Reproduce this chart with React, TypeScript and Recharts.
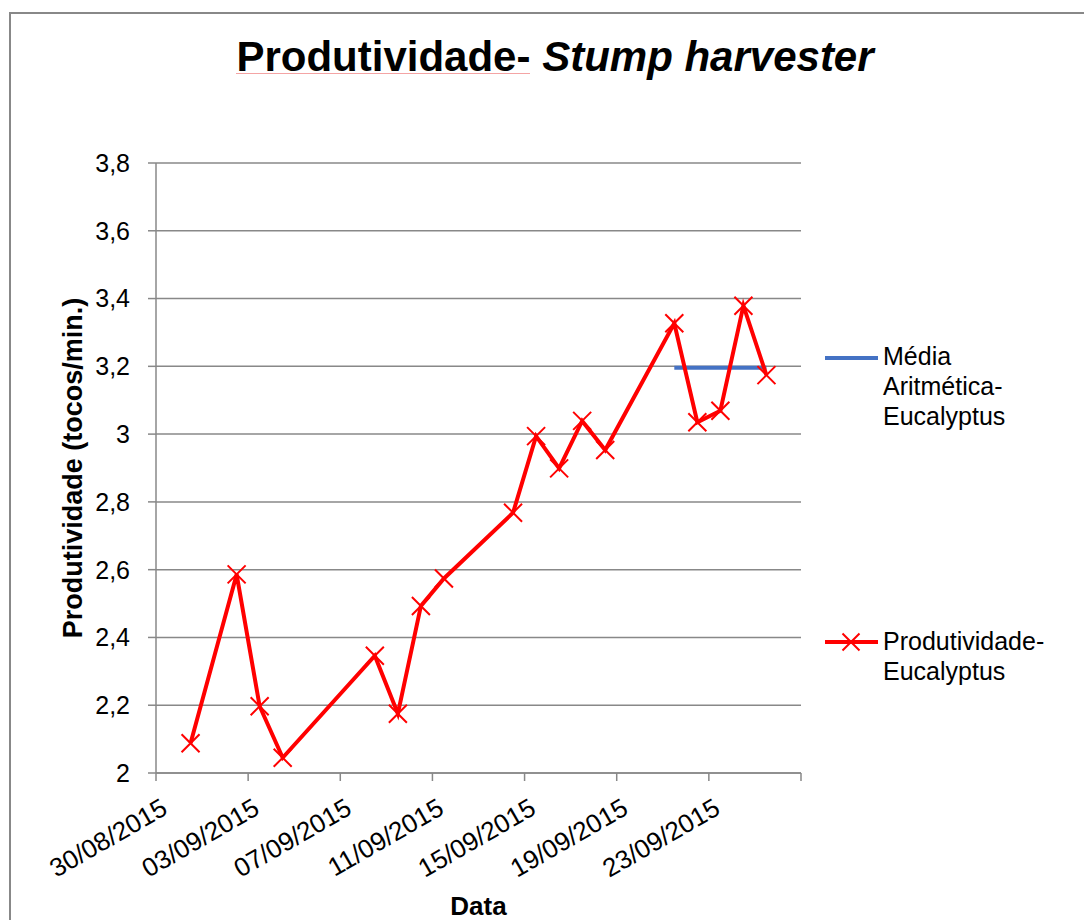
import { CartesianGrid, Legend, Line, LineChart, XAxis, YAxis } from "recharts";

// datas das medições e produtividade (tocos/min.)
const dates = [
  "31/08/2015", "02/09/2015", "03/09/2015", "04/09/2015", "08/09/2015", "09/09/2015",
  "10/09/2015", "11/09/2015", "14/09/2015", "15/09/2015", "16/09/2015", "17/09/2015",
  "18/09/2015", "21/09/2015", "22/09/2015", "23/09/2015", "24/09/2015", "25/09/2015",
];
const produtividade = [
  2.088, 2.586, 2.197, 2.045, 2.346, 2.175, 2.493, 2.574, 2.768, 2.994, 2.899, 3.039,
  2.953, 3.327, 3.035, 3.069, 3.379, 3.174,
];

// média aritmética (só nos últimos dias)
const mediaDates = ["21/09/2015", "22/09/2015", "23/09/2015", "24/09/2015", "25/09/2015"];
const mediaValues = [3.196, 3.196, 3.196, 3.196, 3.196];

const xTickLabels = [
  "30/08/2015", "03/09/2015", "07/09/2015", "11/09/2015", "15/09/2015", "19/09/2015", "23/09/2015",
];
const xAxisEnd = "27/09/2015";
const yTicks = [2, 2.2, 2.4, 2.6, 2.8, 3, 3.2, 3.4, 3.6, 3.8];

const FONT = '"Liberation Sans", Arial, sans-serif';
const GRAY = "#888888";
const RED = "#ff0000";
const BLUE = "#4472c4";

const toUTC = (s: string) => {
  const [d, m, y] = s.split("/").map(Number);
  return Date.UTC(y, m - 1, d);
};
const origin = toUTC(xTickLabels[0]);
const dayIndex = (s: string) => (toUTC(s) - origin) / 86400000;

const data = dates.map((d, i) => {
  const k = mediaDates.indexOf(d);
  return {
    x: dayIndex(d) + 0.5,
    prod: produtividade[i],
    media: k >= 0 ? mediaValues[k] : null,
  };
});

const xTicks = [...xTickLabels.map(dayIndex), dayIndex(xAxisEnd)];
const xLabelFor = (v: number) => {
  const i = xTickLabels.findIndex((s) => dayIndex(s) === v);
  return i >= 0 ? xTickLabels[i] : "";
};
const yFmt = (v: number) => (Number.isInteger(v) ? String(v) : v.toFixed(1).replace(".", ","));

const XTick = (props: any) => {
  const { x, y, payload } = props;
  const label = xLabelFor(payload.value);
  if (!label) return <g />;
  const tx = x + 13;
  const ty = y + 32;
  return (
    <text x={tx} y={ty} textAnchor="end" fontSize={26} fill="#000" transform={`rotate(-30, ${tx}, ${ty})`}>
      {label}
    </text>
  );
};

const XDot = (props: any) => {
  const { cx, cy } = props;
  if (cx == null || cy == null) return <g />;
  const r = 9;
  return (
    <path
      d={`M${cx - r},${cy - r}L${cx + r},${cy + r}M${cx - r},${cy + r}L${cx + r},${cy - r}`}
      stroke={RED}
      strokeWidth={2}
      fill="none"
    />
  );
};

// posições das entradas da legenda (texto em cima, linha do símbolo)
const legendTops = [0, 285];
const legendLineY = [17, 16];

const renderLegend = (props: any) => {
  const payload = props.payload || [];
  return (
    <div style={{ position: "relative", width: 259, height: 370, fontFamily: FONT }}>
      {payload.map((entry: any, i: number) => (
        <div key={entry.value} style={{ position: "absolute", left: 0, top: legendTops[i], width: 259 }}>
          <svg width={56} height={40} style={{ position: "absolute", left: 0, top: legendLineY[i] - 20 }}>
            <line x1={0} y1={20} x2={53} y2={20} stroke={entry.color} strokeWidth={4} />
            {entry.dataKey === "prod" && (
              <path d="M17.5,11.5L34.5,28.5M17.5,28.5L34.5,11.5" stroke={RED} strokeWidth={2} fill="none" />
            )}
          </svg>
          <div style={{ position: "absolute", left: 58, top: 0, fontSize: 25, lineHeight: "30px", color: "#000" }}>
            {String(entry.value)
              .split(" ")
              .map((w: string) => (
                <div key={w}>{w}</div>
              ))}
          </div>
        </div>
      ))}
    </div>
  );
};

const App = () => {
  return (
    <div style={{ position: "absolute", left: 0, top: 0, width: 1084, height: 920, overflow: "hidden", background: "#fff" }}>
      <div
        style={{
          position: "absolute",
          left: 9,
          top: 12,
          width: 1100,
          height: 940,
          border: `2px solid ${GRAY}`,
        }}
      />
      <div
        style={{
          position: "absolute",
          left: 0,
          top: 36,
          width: 1110,
          textAlign: "center",
          fontFamily: FONT,
          fontWeight: "bold",
          fontSize: 42,
          lineHeight: "42px",
          color: "#000",
        }}
      >
        <span style={{ position: "relative", display: "inline-block" }}>
          Produtividade-
          <span
            style={{
              position: "absolute",
              left: 0,
              right: 0,
              top: 37,
              height: 1,
              background: "#f4a4a4",
            }}
          />
        </span>{" "}
        <i>Stump harvester</i>
      </div>
      <LineChart
        width={1084}
        height={920}
        data={data}
        margin={{ top: 163, right: 283, bottom: 0, left: 0 }}
        style={{ position: "absolute", left: 0, top: 0, fontFamily: FONT }}
      >
        <CartesianGrid vertical={false} stroke={GRAY} strokeWidth={1.5} />
        <XAxis
          type="number"
          dataKey="x"
          domain={[0, dayIndex(xAxisEnd)]}
          ticks={xTicks}
          interval={0}
          height={147}
          tickSize={8}
          tickMargin={0}
          stroke={GRAY}
          strokeWidth={1.5}
          tick={XTick}
          label={() => (
            <text x={478.5} y={915} textAnchor="middle" fontWeight="bold" fontSize={26} fill="#000">
              Data
            </text>
          )}
        />
        <YAxis
          type="number"
          domain={[2, 3.8]}
          ticks={yTicks}
          interval={0}
          width={156}
          tickSize={8}
          tickMargin={18}
          stroke={GRAY}
          strokeWidth={1.5}
          tickFormatter={yFmt}
          tick={{ fill: "#000", fontSize: 25 }}
          label={() => (
            <text
              x={82}
              y={468}
              textAnchor="middle"
              fontWeight="bold"
              fontSize={27}
              fill="#000"
              transform="rotate(-90, 82, 468)"
            >
              Produtividade (tocos/min.)
            </text>
          )}
        />
        <Legend
          layout="vertical"
          align="center"
          verticalAlign="middle"
          content={renderLegend}
          wrapperStyle={{ left: 825, top: 341, width: 259, height: 370 }}
        />
        <Line
          type="linear"
          dataKey="media"
          name="Média Aritmética- Eucalyptus"
          stroke={BLUE}
          strokeWidth={4}
          dot={false}
          activeDot={false}
          isAnimationActive={false}
        />
        <Line
          type="linear"
          dataKey="prod"
          name="Produtividade- Eucalyptus"
          stroke={RED}
          strokeWidth={4}
          dot={XDot}
          activeDot={false}
          isAnimationActive={false}
        />
      </LineChart>
    </div>
  );
};

export default App;
